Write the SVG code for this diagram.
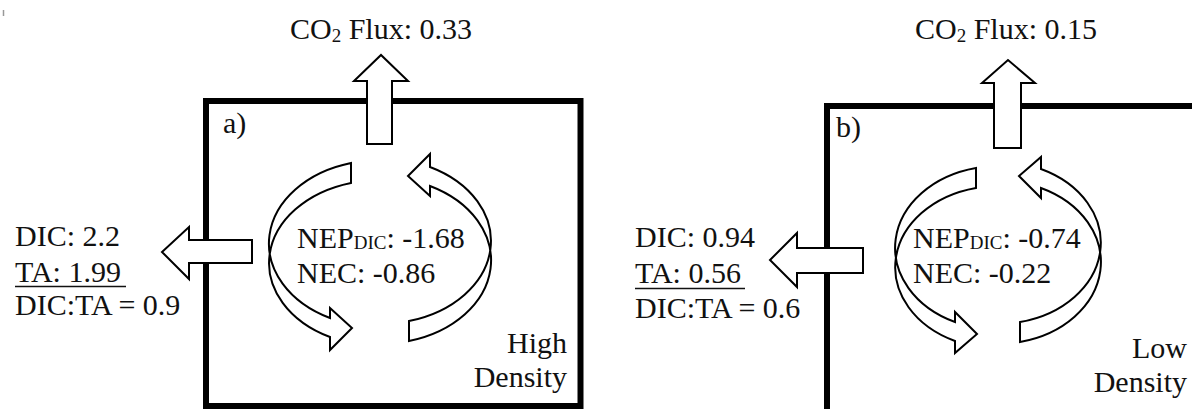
<svg xmlns="http://www.w3.org/2000/svg" width="1192" height="409" viewBox="0 0 1192 409">
  <style>
    .box { fill: none; stroke: #000; stroke-width: 6; }
    .blk { fill: #fff; stroke: #000; stroke-width: 2; stroke-linejoin: miter; }
    .t { font-family: 'Liberation Serif', serif; font-size: 30px; fill: #111; }
    .sub { font-size: 19px; }
    .rt { text-anchor: end; }
    .ul { stroke: #111; stroke-width: 1.5; }
  </style>
  <defs>
    <path id="cyc-a" d="M 351 163 A 111 83.4 0 0 0 330 318 L 330 308 L 352 328 L 330 350 L 330 337 A 111 82.9 0 0 1 351 183 Z"/>
    <path id="cyc-b" d="M 976 168 A 103 81.7 0 0 0 955 322 L 955 312 L 977 334 L 955 353 L 955 341 A 103 81.2 0 0 1 976 188 Z"/>
  </defs>
  <rect width="1192" height="409" fill="#fff"/>
  <line x1="3.5" y1="10" x2="3.5" y2="16" stroke="#999" stroke-width="1.5"/>

  <g id="box-a"><rect class="box" x="206" y="101" width="374.5" height="305"/></g>
  <g id="box-b"><rect class="box" x="827" y="106" width="420" height="360"/></g>

  <g id="connectors">
    <path id="co2-arrow-a" class="blk" d="M 367 144 L 367 81 L 354 81 L 381 55 L 408 81 L 392 81 L 392 144 Z"/>
    <path id="co2-arrow-b" class="blk" d="M 994 148 L 994 83 L 982 83 L 1008 60 L 1035 83 L 1021 83 L 1021 148 Z"/>
    <path id="export-arrow-a" class="blk" d="M 252 240 L 189 240 L 189 227 L 162 252 L 189 279 L 189 263 L 252 263 Z"/>
    <path id="export-arrow-b" class="blk" d="M 863 248 L 797 248 L 797 233 L 770 260 L 797 287 L 797 273 L 863 273 Z"/>
    <use href="#cyc-a" class="blk"/>
    <use href="#cyc-a" class="blk" transform="rotate(180 380 252)"/>
    <use href="#cyc-b" class="blk"/>
    <use href="#cyc-b" class="blk" transform="rotate(180 998 255)"/>
  </g>

  <g id="co2-a"><text class="t" x="290" y="39">CO<tspan class="sub" dy="3">2</tspan><tspan dy="-3"> Flux: 0.33</tspan></text></g>
  <g id="co2-b"><text class="t" x="915" y="39">CO<tspan class="sub" dy="3">2</tspan><tspan dy="-3"> Flux: 0.15</tspan></text></g>

  <g id="label-a"><text class="t" x="223" y="133">a)</text></g>
  <g id="label-b"><text class="t" x="836" y="137">b)</text></g>

  <g id="cycle-a">
    <text class="t" x="297" y="248">NEP<tspan class="sub" dy="1">DIC</tspan><tspan dy="-1">: -1.68</tspan></text>
    <text class="t" x="297" y="283">NEC: -0.86</text>
  </g>
  <g id="cycle-b">
    <text class="t" x="913" y="248">NEP<tspan class="sub" dy="1">DIC</tspan><tspan dy="-1">: -0.74</tspan></text>
    <text class="t" x="913" y="283">NEC: -0.22</text>
  </g>

  <g id="export-a">
    <text class="t" x="15" y="246">DIC: 2.2</text>
    <text class="t" x="15" y="282">TA: 1.99</text>
    <line class="ul" x1="15" y1="286.5" x2="126" y2="286.5"/>
    <text class="t" x="15" y="315">DIC:TA = 0.9</text>
  </g>
  <g id="export-b">
    <text class="t" x="635" y="247">DIC: 0.94</text>
    <text class="t" x="635" y="283">TA: 0.56</text>
    <line class="ul" x1="635" y1="288.5" x2="745" y2="288.5"/>
    <text class="t" x="635" y="318">DIC:TA = 0.6</text>
  </g>

  <g id="density-a">
    <text class="t rt" x="567" y="353">High</text>
    <text class="t rt" x="567" y="387">Density</text>
  </g>
  <g id="density-b">
    <text class="t rt" x="1187" y="358">Low</text>
    <text class="t rt" x="1187" y="392">Density</text>
  </g>
</svg>
